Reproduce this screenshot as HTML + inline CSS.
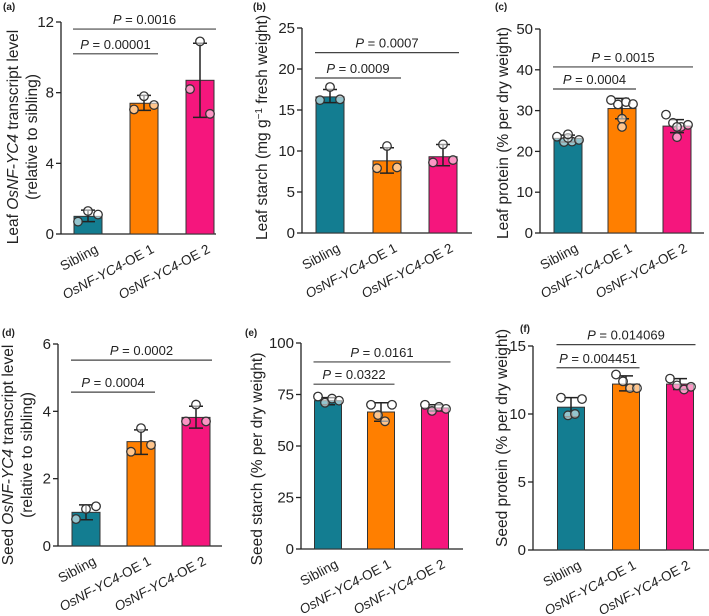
<!DOCTYPE html>
<html><head><meta charset="utf-8"><style>
html,body{margin:0;padding:0;background:#fff;}
svg{display:block;font-family:"Liberation Sans",Arial,sans-serif;}
</style></head><body>
<svg id="fig" width="709" height="616" viewBox="0 0 709 616"></svg>
<script>
const categories = ["Sibling", "OsNF-YC4-OE 1", "OsNF-YC4-OE 2"];
const colors = ["#137d91", "#ff7f00", "#f5167d"];

const aMeans = [1.0, 7.4, 8.7];
const aErrLow = [0.7, 7.0, 6.6];
const aErrHigh = [1.35, 7.85, 10.8];
const aPoints = [[1.3, 0.7, 1.1], [7.8, 7.05, 7.3], [10.9, 8.2, 6.8]];
const aTicks = [0, 4, 8, 12];
const aPvals = ["P = 0.0016", "P = 0.00001"];
const aPy = [11.6, 10.2];

const bMeans = [16.6, 8.8, 9.3];
const bErrLow = [15.9, 7.3, 8.2];
const bErrHigh = [17.5, 10.4, 10.8];
const bPoints = [[17.8, 16.2, 16.3], [10.6, 7.9, 8.0], [10.8, 8.6, 8.9]];
const bTicks = [0, 5, 10, 15, 20, 25];
const bPvals = ["P = 0.0007", "P = 0.0009"];
const bPy = [22, 18.9];

const cMeans = [23.2, 30.5, 26.2];
const cErrLow = [22.3, 28.0, 24.6];
const cErrHigh = [24.0, 33.0, 27.8];
const cPoints = [[23.6, 22.3, 22.4, 22.8, 23.3, 24.2], [32.6, 31.5, 32.1, 31.6, 28.0, 26.0], [29.0, 27.0, 26.0, 26.5, 23.5, 26.0]];
const cTicks = [0, 10, 20, 30, 40, 50];
const cPvals = ["P = 0.0015", "P = 0.0004"];
const cPy = [40.7, 35.3];

const dMeans = [1.0, 3.1, 3.82];
const dErrLow = [0.78, 2.72, 3.5];
const dErrHigh = [1.22, 3.45, 4.15];
const dPoints = [[1.1, 0.8, 1.18], [3.5, 2.8, 3.0], [4.2, 3.7, 3.7]];
const dTicks = [0, 2, 4, 6];
const dPvals = ["P = 0.0002", "P = 0.0004"];
const dPy = [5.52, 4.57];

const eMeans = [72, 66.5, 68.5];
const eErrLow = [70, 62, 67];
const eErrHigh = [73.5, 71, 70];
const ePoints = [[74, 71, 73, 72], [70, 65, 62, 70], [70, 67, 69, 68]];
const eTicks = [0, 25, 50, 75, 100];
const ePvals = ["P = 0.0161", "P = 0.0322"];
const ePy = [90.8, 80];

const fMeans = [10.5, 12.2, 12.2];
const fErrLow = [9.8, 11.7, 11.8];
const fErrHigh = [11.2, 12.8, 12.6];
const fPoints = [[11.2, 9.9, 10.0, 11.1], [12.9, 12.4, 11.9, 11.9], [12.6, 12.1, 11.8, 12.0]];
const fTicks = [0, 5, 10, 15];
const fPvals = ["P = 0.014069", "P = 0.004451"];
const fPy = [15.1, 13.4];

const NS = "http://www.w3.org/2000/svg";
const svg = document.getElementById("fig");
function mk(tag, attrs, parent) {
  const e = document.createElementNS(NS, tag);
  for (const k in attrs) e.setAttribute(k, attrs[k]);
  (parent || svg).appendChild(e);
  return e;
}
const jitter = {3: [0, -10, 10], 4: [-10, -3, 4, 11], 6: [-11, -4, 4, 11, 0, 0]};

function panel(L, D) {
  const g = mk("g", {});
  
  
  const vmax = D.ticks[D.ticks.length - 1];
  const y = v => L.y0 - (v / vmax) * (L.y0 - L.yTop);
  const bw = L.bw || 28;
  const xs = L.cx;
  const lt = mk("text", {x: L.lx, y: L.ly, "font-size": 10, "font-weight": "bold", fill: "#222"}, g);
  lt.textContent = "(" + L.id + ")";
  
  
  const ya = mk("line", {x1: L.ax, x2: L.ax, y1: y(vmax), y2: L.y0, stroke: "#222", "stroke-width": 1.3}, g);
  
  
  const xa = mk("line", {x1: L.ax, x2: L.xEnd, y1: L.y0, y2: L.y0, stroke: "#222", "stroke-width": 1.3}, g);
  
  
  D.ticks.forEach(t => {
    mk("line", {x1: L.ax - 5, x2: L.ax, y1: y(t), y2: y(t), stroke: "#222", "stroke-width": 1.3}, g);
    const tt = mk("text", {x: L.ax - 7, y: y(t) + 5, "font-size": 15, "text-anchor": "end", fill: "#222"}, g);
    tt.textContent = t;
    
    
  });
  const cy = (y(vmax) + L.y0) / 2 + (L.tdy || 0);
  const ty = mk("text", {transform: "translate(" + L.tx + "," + cy + ") rotate(-90)", "font-size": 15.5, "text-anchor": "middle", fill: "#222"}, g);
  ty.innerHTML = L.title;
  
  
  if (L.title2) {
    const t2 = mk("text", {transform: "translate(" + (L.tx + 19) + "," + cy + ") rotate(-90)", "font-size": 15.5, "text-anchor": "middle", fill: "#222"}, g);
    t2.textContent = L.title2;
    
    
  }
  D.means.forEach((m, i) => {
    const r = mk("rect", {x: xs[i] - bw / 2, y: y(m), width: bw, height: L.y0 - y(m), fill: colors[i], stroke: "#333", "stroke-width": 1}, g);
    
    
    const e = mk("path", {d: "M" + xs[i] + "," + y(D.lo[i]) + "V" + y(D.hi[i]) + "M" + (xs[i] - 7) + "," + y(D.lo[i]) + "h14M" + (xs[i] - 7) + "," + y(D.hi[i]) + "h14", stroke: "#222", "stroke-width": 1.5, fill: "none"}, g);
    
    
    const jt = jitter[D.pts[i].length];
    D.pts[i].forEach((p, k) => {
      const c = mk("circle", {cx: xs[i] + jt[k], cy: y(p), r: 4.3, fill: "#fff", "fill-opacity": 0.55, stroke: "#333", "stroke-width": 1.3}, g);
      
      
    });
    const lab = mk("text", {transform: "translate(" + (xs[i] + 11) + "," + (L.y0 + 18) + ") rotate(-28)", "font-size": 13.5, "text-anchor": "end", fill: "#222"}, g);
    if (i === 0) lab.textContent = categories[i];
    else lab.innerHTML = '<tspan font-style="italic">OsNF-YC4</tspan>' + categories[i].slice(8);
    
    
  });
  const ends = [xs[2] + bw / 2 + 2, xs[1] + bw / 2];
  D.py.forEach((pv, j) => {
    const x1 = xs[0] - bw / 2 - 1, x2 = ends[j];
    const ln = mk("line", {x1: x1, x2: x2, y1: y(pv), y2: y(pv), stroke: "#444", "stroke-width": 1.2}, g);
    
    
    const pt = mk("text", {x: (x1 + x2) / 2, y: y(pv) - 5, "font-size": 13, "text-anchor": "middle", fill: "#222"}, g);
    pt.innerHTML = '<tspan font-style="italic">P</tspan>' + D.pv[j].slice(1);
    
    
  });
}

panel({id: "a", lx: 3, ly: 10, ax: 61, xEnd: 216, y0: 234, yTop: 22, cx: [88, 144, 200], tx: 18, tdy: 9,
  title: 'Leaf <tspan font-style="italic">OsNF-YC4</tspan> transcript level', title2: "(relative to sibling)"},
  {means: aMeans, lo: aErrLow, hi: aErrHigh, pts: aPoints, ticks: aTicks, pv: aPvals, py: aPy});
panel({id: "b", lx: 253, ly: 10, ax: 302, xEnd: 472, y0: 233, yTop: 28, cx: [330, 387, 443], tx: 267, tdy: -3,
  title: 'Leaf starch (mg g<tspan baseline-shift="super" font-size="10">−1</tspan> fresh weight)'},
  {means: bMeans, lo: bErrLow, hi: bErrHigh, pts: bPoints, ticks: bTicks, pv: bPvals, py: bPy});
panel({id: "c", lx: 495, ly: 10, ax: 540, xEnd: 704, y0: 233, yTop: 29, cx: [568, 622, 677], tx: 508, tdy: 2,
  title: 'Leaf protein (% per dry weight)'},
  {means: cMeans, lo: cErrLow, hi: cErrHigh, pts: cPoints, ticks: cTicks, pv: cPvals, py: cPy});
panel({id: "d", lx: 2, ly: 336, ax: 58, xEnd: 222, y0: 546, yTop: 344, cx: [86, 141, 196], tx: 13, tdy: 10,
  title: 'Seed <tspan font-style="italic">OsNF-YC4</tspan> transcript level', title2: "(relative to sibling)"},
  {means: dMeans, lo: dErrLow, hi: dErrHigh, pts: dPoints, ticks: dTicks, pv: dPvals, py: dPy});
panel({id: "e", lx: 245, ly: 336, ax: 301, xEnd: 463, y0: 549, yTop: 343, cx: [328, 381, 435], bw: 27, tx: 262, tdy: 13,
  title: 'Seed starch (% per dry weight)'},
  {means: eMeans, lo: eErrLow, hi: eErrHigh, pts: ePoints, ticks: eTicks, pv: ePvals, py: ePy});
panel({id: "f", lx: 520, ly: 332, ax: 533, xEnd: 709, y0: 550, yTop: 346, cx: [571, 626, 680], bw: 27, tx: 507, tdy: -10,
  title: 'Seed protein (% per dry weight)'},
  {means: fMeans, lo: fErrLow, hi: fErrHigh, pts: fPoints, ticks: fTicks, pv: fPvals, py: fPy});
</script>
</body></html>
